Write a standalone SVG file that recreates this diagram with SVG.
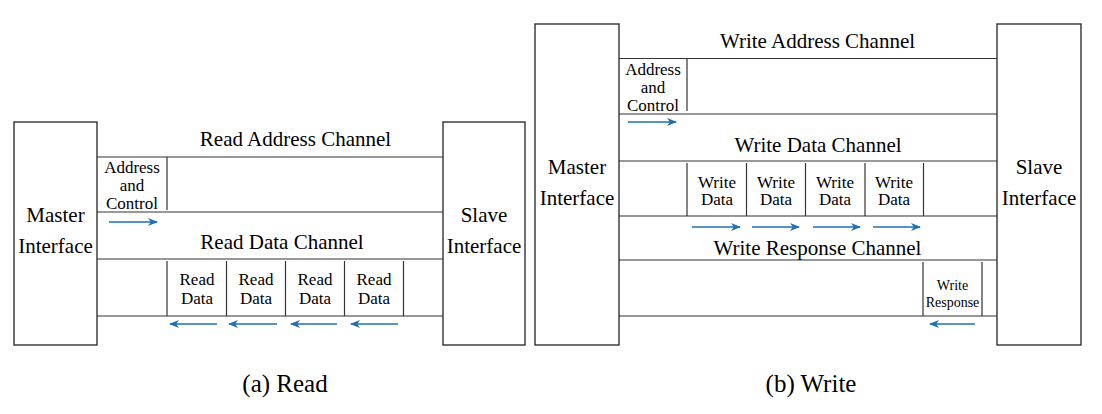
<svg xmlns="http://www.w3.org/2000/svg" width="1102" height="414" viewBox="0 0 1102 414">
<style>
  .box { fill: #ffffff; stroke: #222222; stroke-width: 1.3; }
  .ln { stroke: #333333; stroke-width: 1.2; fill: none; }
  text { font-family: 'Liberation Serif', 'DejaVu Serif', serif; fill: #000000; text-anchor: middle; }
  .big { font-size: 21px; }
  .cell { font-size: 17px; }
  .small { font-size: 14px; }
  .cap { font-size: 25px; }
  .arr { stroke: #1f6fb2; stroke-width: 1.6; fill: none; marker-end: url(#ah); }
</style>
<defs>
  <marker id="ah" viewBox="0 0 10 8" refX="9" refY="4" markerWidth="10" markerHeight="8" markerUnits="userSpaceOnUse" orient="auto">
    <path d="M0,0 L10,4 L0,8 L2.8,4 Z" fill="#1f6fb2"/>
  </marker>
</defs>
<rect width="1102" height="414" fill="#ffffff"/>

<g font-family="Liberation Serif, DejaVu Serif, serif">
<!-- (a) Read -->
<g id="read-master">
  <rect class="box" x="14" y="122" width="83" height="223"/>
  <text class="big" x="55.5" y="222">Master</text>
  <text class="big" x="55.5" y="253">Interface</text>
</g>
<g id="read-slave">
  <rect class="box" x="443" y="122" width="82" height="223"/>
  <text class="big" x="484" y="222">Slave</text>
  <text class="big" x="484" y="253">Interface</text>
</g>
<g id="read-address-channel">
  <text class="big" x="295.5" y="146">Read Address Channel</text>
  <line class="ln" x1="97" y1="157" x2="443" y2="157"/>
  <line class="ln" x1="97" y1="212" x2="443" y2="212"/>
  <line class="ln" x1="167" y1="157" x2="167" y2="210"/>
  <text class="cell" x="132" y="173">Address</text>
  <text class="cell" x="132" y="191">and</text>
  <text class="cell" x="132" y="209">Control</text>
</g>
<g id="read-data-channel">
  <text class="big" x="282" y="249">Read Data Channel</text>
  <line class="ln" x1="97" y1="259" x2="443" y2="259"/>
  <line class="ln" x1="97" y1="316" x2="443" y2="316"/>
  <line class="ln" x1="167" y1="261" x2="167" y2="316"/>
  <line class="ln" x1="226.5" y1="261" x2="226.5" y2="316"/>
  <line class="ln" x1="285.5" y1="261" x2="285.5" y2="316"/>
  <line class="ln" x1="344.5" y1="261" x2="344.5" y2="316"/>
  <line class="ln" x1="403.5" y1="261" x2="403.5" y2="316"/>
  <text class="cell" x="197" y="285">Read</text>
  <text class="cell" x="197" y="304">Data</text>
  <text class="cell" x="256" y="285">Read</text>
  <text class="cell" x="256" y="304">Data</text>
  <text class="cell" x="315" y="285">Read</text>
  <text class="cell" x="315" y="304">Data</text>
  <text class="cell" x="374" y="285">Read</text>
  <text class="cell" x="374" y="304">Data</text>
</g>
<text id="caption-a" class="cap" x="285" y="392">(a) Read</text>

<!-- (b) Write -->
<g id="write-master">
  <rect class="box" x="535" y="24" width="84" height="321"/>
  <text class="big" x="577" y="174">Master</text>
  <text class="big" x="577" y="205">Interface</text>
</g>
<g id="write-slave">
  <rect class="box" x="997" y="24" width="84" height="321"/>
  <text class="big" x="1039" y="174">Slave</text>
  <text class="big" x="1039" y="205">Interface</text>
</g>
<g id="write-address-channel">
  <text class="big" x="817.5" y="48">Write Address Channel</text>
  <line class="ln" x1="619" y1="58.5" x2="997" y2="58.5"/>
  <line class="ln" x1="619" y1="114" x2="997" y2="114"/>
  <line class="ln" x1="687" y1="58.5" x2="687" y2="111"/>
  <text class="cell" x="653" y="74.5">Address</text>
  <text class="cell" x="653" y="92.5">and</text>
  <text class="cell" x="653" y="110.5">Control</text>
</g>
<g id="write-data-channel">
  <text class="big" x="818" y="152">Write Data Channel</text>
  <line class="ln" x1="619" y1="161" x2="997" y2="161"/>
  <line class="ln" x1="619" y1="216" x2="997" y2="216"/>
  <line class="ln" x1="687" y1="163" x2="687" y2="216"/>
  <line class="ln" x1="746.5" y1="163" x2="746.5" y2="216"/>
  <line class="ln" x1="805.5" y1="163" x2="805.5" y2="216"/>
  <line class="ln" x1="865" y1="163" x2="865" y2="216"/>
  <line class="ln" x1="923.5" y1="163" x2="923.5" y2="216"/>
  <text class="cell" x="717" y="187.5">Write</text>
  <text class="cell" x="717" y="205">Data</text>
  <text class="cell" x="776" y="187.5">Write</text>
  <text class="cell" x="776" y="205">Data</text>
  <text class="cell" x="835" y="187.5">Write</text>
  <text class="cell" x="835" y="205">Data</text>
  <text class="cell" x="894" y="187.5">Write</text>
  <text class="cell" x="894" y="205">Data</text>
</g>
<g id="write-response-channel">
  <text class="big" x="817.5" y="255">Write Response Channel</text>
  <line class="ln" x1="619" y1="260" x2="997" y2="260"/>
  <line class="ln" x1="619" y1="316" x2="997" y2="316"/>
  <line class="ln" x1="923" y1="262" x2="923" y2="316"/>
  <line class="ln" x1="982" y1="262" x2="982" y2="316"/>
  <text class="small" x="952.5" y="289.5">Write</text>
  <text class="small" x="952.5" y="307">Response</text>
</g>
<text id="caption-b" class="cap" x="811" y="392">(b) Write</text>
</g>

<g id="connectors">
  <line class="arr" x1="109" y1="222" x2="157" y2="222"/>
  <line class="arr" x1="217" y1="324" x2="170" y2="324"/>
  <line class="arr" x1="277" y1="324" x2="229" y2="324"/>
  <line class="arr" x1="337" y1="324" x2="291" y2="324"/>
  <line class="arr" x1="398" y1="324" x2="351" y2="324"/>
  <line class="arr" x1="628" y1="122" x2="676" y2="122"/>
  <line class="arr" x1="692" y1="227" x2="740" y2="227"/>
  <line class="arr" x1="752" y1="227" x2="799" y2="227"/>
  <line class="arr" x1="813" y1="227" x2="860" y2="227"/>
  <line class="arr" x1="873" y1="227" x2="920" y2="227"/>
  <line class="arr" x1="975" y1="324" x2="930" y2="324"/>
</g>
</svg>
